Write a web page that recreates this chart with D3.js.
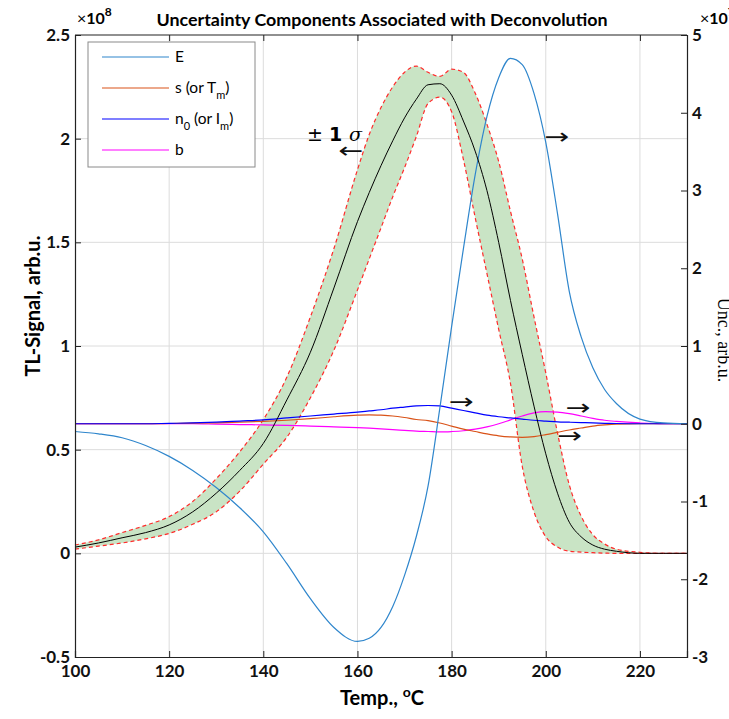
<!DOCTYPE html>
<html>
<head>
<meta charset="utf-8">
<script src="https://cdn.jsdelivr.net/npm/d3@7"></script>
<style>
  body { margin: 0; background: #fff; }
  svg { display: block; }
</style>
</head>
<body>
<div id="chart-area"></div>
<script>
// temperatures (deg C)
var temps = [100,105,110,115,120,125,130,135,140,145,150,155,160,162.5,165,167.5,170,172.5,175,177.5,
             180,182.5,185,187.5,190,192.5,195,197.5,200,202.5,205,207.5,210,212.5,215,220,225,230];

// TL signal and +/- 1 sigma band (x 1e8, left axis)
var tlSignal = [0.03,0.05,0.075,0.10,0.137,0.20,0.29,0.40,0.53,0.74,0.97,1.28,1.60,1.74,1.87,1.99,2.10,2.19,2.26,2.265,
                2.21,2.085,1.94,1.75,1.50,1.22,0.96,0.71,0.48,0.29,0.15,0.08,0.04,0.02,0.01,0,0,0];
var bandUpper = [0.04,0.065,0.10,0.135,0.177,0.25,0.36,0.49,0.645,0.85,1.14,1.47,1.85,2.02,2.15,2.25,2.32,2.35,2.32,2.30,
                 2.335,2.32,2.22,2.07,1.89,1.65,1.42,1.14,0.87,0.58,0.33,0.18,0.09,0.045,0.02,0.005,0,0];
var bandLower = [0.02,0.035,0.05,0.07,0.096,0.14,0.20,0.30,0.43,0.56,0.75,0.98,1.27,1.42,1.57,1.72,1.86,2.01,2.17,2.20,
                 2.13,1.90,1.62,1.35,1.08,0.82,0.42,0.20,0.08,0.03,0.01,0.006,0.003,0.001,0,0,0,0];

// uncertainty components (x 1e7, right axis)
var compE  = [-0.10,-0.13,-0.18,-0.28,-0.42,-0.60,-0.82,-1.08,-1.39,-1.80,-2.25,-2.62,-2.80,-2.76,-2.62,-2.35,-1.95,-1.45,-0.80,0.20,
              1.25,2.25,3.20,3.95,4.45,4.70,4.62,4.25,3.62,2.70,1.70,1.12,0.72,0.44,0.26,0.06,0.01,0];
var compS  = [0,0,0,0,0.003,0.007,0.012,0.02,0.03,0.045,0.065,0.09,0.11,0.115,0.11,0.10,0.08,0.055,0.04,0.01,
              -0.03,-0.07,-0.10,-0.13,-0.155,-0.17,-0.175,-0.165,-0.14,-0.11,-0.08,-0.055,-0.03,-0.015,-0.005,0,0,0];
var compN0 = [0,0,0,0,0.005,0.01,0.02,0.035,0.05,0.075,0.10,0.125,0.15,0.165,0.18,0.20,0.215,0.23,0.235,0.23,
              0.20,0.17,0.14,0.11,0.09,0.075,0.06,0.045,0.035,0.025,0.02,0.015,0.01,0.006,0.003,0,0,0];
var compB  = [0,0,0,0,0,0,-0.005,-0.01,-0.015,-0.02,-0.03,-0.04,-0.05,-0.057,-0.065,-0.075,-0.085,-0.095,-0.10,-0.105,
              -0.10,-0.09,-0.07,-0.04,0,0.05,0.10,0.14,0.155,0.15,0.13,0.10,0.07,0.045,0.03,0.01,0,0];

// legend labels: [main, subscript, rest, subscript, rest]
var legendLabels = [
    ["E"],
    ["s (or T", "m", ")"],
    ["n", "0", " (or I", "m", ")"],
    ["b"]
];
var compColors = ["#2f86cc", "#d95319", "#0000ff", "#ff00ff"];

var xTicks = [100,120,140,160,180,200,220];
var yLeftTicks = [-0.5,0,0.5,1,1.5,2,2.5];
var yRightTicks = [-3,-2,-1,0,1,2,3,4,5];

// arrow annotations: temperature, value on right axis, glyph
var arrowT = [158.6, 202.4, 182.1, 206.9, 205.1];
var arrowV = [3.51, 3.70, 0.28, 0.215, -0.145];
var arrowS = ["\u2190", "\u2192", "\u2192", "\u2192", "\u2192"];

var margin = {left:75, right:42, top:35, bottom:62};
var width = 729 - margin.left - margin.right,
    height = 719 - margin.top - margin.bottom;

var svg = d3.select("#chart-area")
    .append("svg")
        .attr("width", 729)
        .attr("height", 719);

var g = svg.append("g")
    .attr("transform", "translate(" + margin.left + ", " + margin.top + ")");

var font = "Lato, 'Open Sans', sans-serif";

var x = d3.scaleLinear().domain([100, 230]).range([0, width]);
var yL = d3.scaleLinear().domain([-0.5, 2.5]).range([height, 0]);
var yR = d3.scaleLinear().domain([-3, 5]).range([height, 0]);

// grid
g.append("g").selectAll("line")
    .data(xTicks.slice(1))
    .enter().append("line")
        .attr("x1", d => x(d)).attr("x2", d => x(d))
        .attr("y1", 0).attr("y2", height)
        .attr("stroke", "#dcdcdc").attr("stroke-width", 1);
g.append("g").selectAll("line")
    .data(yLeftTicks.slice(1, -1))
    .enter().append("line")
        .attr("x1", 0).attr("x2", width)
        .attr("y1", d => yL(d)).attr("y2", d => yL(d))
        .attr("stroke", "#dcdcdc").attr("stroke-width", 1);

var rows = temps.map(function(t, i) {
    return {t: t, tl: tlSignal[i], up: bandUpper[i], lo: bandLower[i],
            c: [compE[i], compS[i], compN0[i], compB[i]]};
});

// band
var area = d3.area()
    .x(d => x(d.t))
    .y0(d => yL(d.lo))
    .y1(d => yL(d.up))
    .curve(d3.curveMonotoneX);
g.append("path").datum(rows)
    .attr("d", area)
    .attr("fill", "#c9e4c5");

["up", "lo"].forEach(function(k) {
    g.append("path").datum(rows)
        .attr("d", d3.line().x(d => x(d.t)).y(d => yL(d[k])).curve(d3.curveMonotoneX))
        .attr("fill", "none")
        .attr("stroke", "#ff2a2a")
        .attr("stroke-width", 1.2)
        .attr("stroke-dasharray", "4,3");
});

// components, right axis
[3, 1, 2, 0].forEach(function(j) {
    g.append("path").datum(rows)
        .attr("d", d3.line().x(d => x(d.t)).y(d => yR(d.c[j])).curve(d3.curveMonotoneX))
        .attr("fill", "none")
        .attr("stroke", compColors[j])
        .attr("stroke-width", 1.2);
});

// TL signal
g.append("path").datum(rows)
    .attr("d", d3.line().x(d => x(d.t)).y(d => yL(d.tl)).curve(d3.curveMonotoneX))
    .attr("fill", "none")
    .attr("stroke", "#000")
    .attr("stroke-width", 1);

// axes
var fmt = d => String(d);
var xAxis = g.append("g")
    .attr("transform", "translate(0," + height + ")")
    .call(d3.axisBottom(x).tickValues(xTicks).tickSize(-6).tickPadding(8).tickFormat(fmt));
var xTop = g.append("g")
    .call(d3.axisTop(x).tickValues(xTicks).tickSize(-6).tickFormat(""));
var yAxisL = g.append("g")
    .call(d3.axisLeft(yL).tickValues(yLeftTicks).tickSize(-6).tickPadding(5).tickFormat(fmt));
var yAxisR = g.append("g")
    .attr("transform", "translate(" + width + ",0)")
    .call(d3.axisRight(yR).tickValues(yRightTicks).tickSize(-6).tickPadding(5).tickFormat(fmt));

[xAxis, xTop, yAxisL, yAxisR].forEach(function(a) {
    a.select(".domain").attr("stroke", "#222").attr("stroke-width", 1.2);
    a.selectAll(".tick line").attr("stroke", "#222");
    a.selectAll("text")
        .attr("font-family", font)
        .attr("font-size", "17px")
        .attr("font-weight", "bold")
        .attr("fill", "#111");
});
xTop.select(".domain").attr("d", "M0,0H" + width);

// exponents
var e8 = svg.append("text").attr("x", 77).attr("y", 24)
    .attr("font-family", font).attr("font-size", "16px").attr("font-weight", "bold");
e8.append("tspan").attr("font-weight", "normal").text("\u00d7");
e8.append("tspan").text("10");
e8.append("tspan").attr("dy", -8).attr("font-size", "12px").text("8");

var e7 = svg.append("text").attr("x", 700).attr("y", 24)
    .attr("font-family", font).attr("font-size", "16px").attr("font-weight", "bold");
e7.append("tspan").attr("font-weight", "normal").text("\u00d7");
e7.append("tspan").text("10");
e7.append("tspan").attr("dy", -8).attr("font-size", "12px").text("7");

// title
svg.append("text")
    .attr("x", 382).attr("y", 26)
    .attr("text-anchor", "middle")
    .attr("font-family", font).attr("font-size", "17px").attr("font-weight", "bold")
    .attr("textLength", 451).attr("lengthAdjust", "spacingAndGlyphs")
    .text("Uncertainty Components Associated with Deconvolution");

// X Label
var xl = svg.append("text")
    .attr("x", 382).attr("y", 705)
    .attr("text-anchor", "middle")
    .attr("font-family", font).attr("font-size", "20px").attr("font-weight", "bold");
xl.append("tspan").text("Temp., ");
xl.append("tspan").attr("dy", -8).attr("font-size", "14px").text("o");
xl.append("tspan").attr("dy", 8).text("C");

// Y Label
svg.append("text")
    .attr("transform", "translate(40,306) rotate(-90)")
    .attr("text-anchor", "middle")
    .attr("font-family", font).attr("font-size", "20px").attr("font-weight", "bold")
    .text("TL-Signal, arb.u.");

// right label (cut by the page edge)
svg.append("text")
    .attr("transform", "translate(718,340) rotate(90)")
    .attr("text-anchor", "middle")
    .attr("font-family", "'Liberation Serif', serif").attr("font-size", "18px")
    .text("Unc., arb.u.");

// legend
var lg = svg.append("g").attr("transform", "translate(88,42)");
lg.append("rect")
    .attr("width", 167).attr("height", 125)
    .attr("fill", "#fff").attr("stroke", "#8a8a8a").attr("stroke-width", 1);
legendLabels.forEach(function(parts, i) {
    var yy = 15 + i * 31;
    lg.append("line")
        .attr("x1", 14).attr("x2", 81).attr("y1", yy).attr("y2", yy)
        .attr("stroke", compColors[i]).attr("stroke-width", 1.2);
    var t = lg.append("text").attr("x", 87).attr("y", yy + 5)
        .attr("font-family", font).attr("font-size", "15.5px");
    parts.forEach(function(p, k) {
        var sub = k % 2 === 1;
        var ts = t.append("tspan").text(p);
        if (sub) ts.attr("dy", 6).attr("font-size", "11px");
        else if (k > 0) ts.attr("dy", -6);
    });
});

// annotations (data coordinates)
var sig = g.append("text")
    .attr("x", x(149.3)).attr("y", yL(1.99))
    .attr("font-family", "'DejaVu Sans', sans-serif").attr("font-size", "19px");
sig.append("tspan").text("\u00b1 ");
sig.append("tspan").attr("font-weight", "bold").text("1 ");
sig.append("tspan").attr("font-style", "italic").attr("font-family", "'DejaVu Serif', serif").text("\u03c3");

g.selectAll(".arrow")
    .data(arrowT)
    .enter().append("text")
        .attr("class", "arrow")
        .attr("x", d => x(d))
        .attr("y", (d, i) => yR(arrowV[i]))
        .attr("text-anchor", "middle")
        .attr("dominant-baseline", "central")
        .attr("font-family", "'DejaVu Sans', sans-serif")
        .attr("font-size", "22px")
        .attr("textLength", 25)
        .attr("lengthAdjust", "spacingAndGlyphs")
        .attr("fill", "#111")
        .text((d, i) => arrowS[i]);
</script>
</body>
</html>
